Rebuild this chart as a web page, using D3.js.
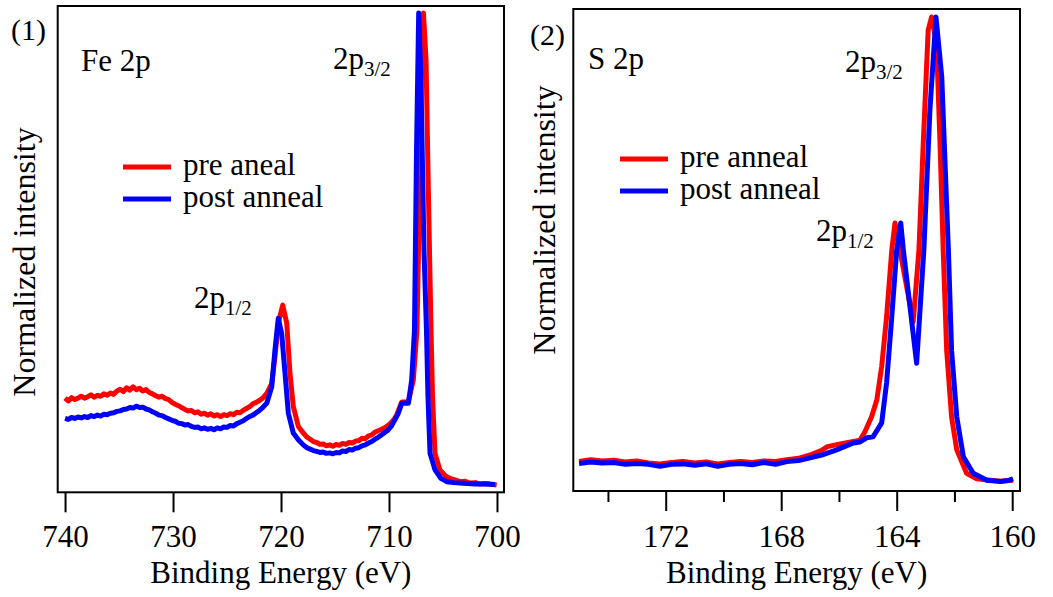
<!DOCTYPE html>
<html>
<head>
<meta charset="utf-8">
<script src="https://cdn.jsdelivr.net/npm/d3@7"></script>
<style>
  body { margin: 0; background: #fff; }
  svg text { font-family: "Liberation Serif"; fill: #000; }
</style>
</head>
<body>
<svg id="chart" width="1053" height="597" font-family="Liberation Serif"></svg>
<script>
// Fe 2p spectra: [binding energy (eV), normalized intensity]
var fePre = [[740.0,0.184],[739.7,0.178],[739.4,0.185],[739.1,0.181],[738.8,0.184],[738.5,0.188],[738.2,0.184],[737.9,0.187],[737.6,0.191],[737.3,0.186],[737.0,0.190],[736.7,0.188],[736.4,0.193],[736.1,0.190],[735.8,0.195],[735.5,0.192],[735.2,0.199],[734.9,0.203],[734.6,0.198],[734.3,0.206],[734.0,0.201],[733.7,0.208],[733.4,0.202],[733.1,0.205],[732.8,0.199],[732.5,0.202],[732.2,0.196],[731.9,0.193],[731.6,0.189],[731.3,0.186],[731.0,0.188],[730.7,0.183],[730.4,0.181],[730.1,0.175],[729.8,0.171],[729.5,0.168],[729.2,0.164],[728.9,0.160],[728.6,0.157],[728.3,0.158],[728.0,0.153],[727.7,0.155],[727.4,0.150],[727.1,0.152],[726.8,0.148],[726.5,0.151],[726.2,0.146],[725.9,0.149],[725.6,0.145],[725.3,0.149],[725.0,0.147],[724.7,0.151],[724.4,0.149],[724.1,0.154],[723.8,0.153],[723.5,0.158],[723.2,0.162],[722.9,0.166],[722.6,0.172],[722.3,0.175],[722.0,0.179],[721.7,0.184],[721.32,0.194],[720.86,0.215],[720.56,0.272],[720.25,0.343],[719.84,0.381],[719.47,0.343],[719.17,0.237],[718.86,0.166],[718.4,0.124],[718.0,0.112],[717.62,0.102],[717.3,0.097],[717.0,0.092],[716.7,0.090],[716.4,0.086],[716.1,0.087],[715.8,0.083],[715.5,0.085],[715.2,0.082],[714.9,0.086],[714.6,0.084],[714.3,0.088],[714.0,0.086],[713.7,0.090],[713.4,0.089],[713.1,0.093],[712.8,0.094],[712.5,0.099],[712.2,0.098],[711.9,0.104],[711.6,0.106],[711.3,0.112],[711.0,0.115],[710.7,0.118],[710.4,0.121],[710.1,0.126],[709.8,0.132],[709.5,0.140],[709.29,0.148],[708.82,0.176],[708.21,0.176],[707.75,0.222],[707.41,0.328],[707.18,0.604],[706.99,0.9],[706.81,1.0],[706.57,0.9],[706.34,0.604],[706.11,0.328],[705.97,0.187],[705.74,0.067],[705.28,0.032],[704.8,0.020],[704.35,0.014],[703.9,0.011],[703.43,0.007],[703.0,0.008],[702.5,0.004],[702.0,0.005],[701.57,0.002],[701.0,0.003],[700.03,0.0]];
var fePost = [[740.0,0.141],[739.7,0.139],[739.4,0.143],[739.1,0.141],[738.8,0.144],[738.5,0.142],[738.2,0.145],[737.9,0.143],[737.6,0.147],[737.3,0.145],[737.0,0.148],[736.7,0.146],[736.4,0.150],[736.1,0.149],[735.8,0.152],[735.5,0.153],[735.2,0.156],[734.9,0.157],[734.6,0.160],[734.3,0.161],[734.0,0.164],[733.7,0.163],[733.4,0.167],[733.1,0.164],[732.8,0.165],[732.5,0.161],[732.2,0.159],[731.9,0.155],[731.6,0.152],[731.3,0.148],[731.0,0.147],[730.7,0.143],[730.4,0.140],[730.1,0.137],[729.8,0.135],[729.5,0.131],[729.2,0.130],[728.9,0.127],[728.6,0.128],[728.3,0.124],[728.0,0.122],[727.7,0.123],[727.4,0.119],[727.1,0.121],[726.8,0.118],[726.5,0.120],[726.2,0.117],[725.9,0.121],[725.6,0.119],[725.3,0.123],[725.0,0.122],[724.7,0.126],[724.4,0.125],[724.1,0.130],[723.8,0.133],[723.5,0.136],[723.2,0.141],[722.9,0.145],[722.6,0.148],[722.3,0.153],[722.0,0.158],[721.7,0.164],[721.32,0.173],[720.86,0.208],[720.56,0.286],[720.25,0.353],[719.94,0.321],[719.63,0.237],[719.32,0.152],[718.86,0.110],[718.4,0.096],[717.94,0.085],[717.6,0.079],[717.3,0.076],[717.0,0.073],[716.7,0.071],[716.4,0.069],[716.1,0.070],[715.8,0.067],[715.5,0.068],[715.2,0.066],[714.9,0.069],[714.6,0.068],[714.3,0.072],[714.0,0.071],[713.7,0.075],[713.4,0.074],[713.1,0.078],[712.8,0.079],[712.5,0.083],[712.2,0.085],[711.9,0.089],[711.6,0.092],[711.3,0.097],[711.0,0.101],[710.7,0.106],[710.4,0.111],[710.1,0.116],[709.8,0.124],[709.5,0.136],[709.14,0.152],[708.82,0.173],[708.21,0.173],[707.9,0.222],[707.64,0.328],[707.45,0.71],[707.25,1.0],[707.04,0.858],[706.76,0.498],[706.53,0.328],[706.39,0.187],[706.2,0.067],[705.74,0.032],[705.2,0.014],[704.66,0.007],[704.0,0.005],[703.43,0.004],[702.7,0.003],[702.04,0.002],[701.2,0.002],[700.19,0.001]];

// S 2p spectra
var sPre = [[175.0,0.046],[174.6,0.050],[174.2,0.047],[173.8,0.049],[173.4,0.045],[173.0,0.047],[172.6,0.043],[172.2,0.041],[171.8,0.044],[171.4,0.046],[171.0,0.043],[170.6,0.045],[170.2,0.041],[169.8,0.044],[169.4,0.046],[169.0,0.044],[168.6,0.047],[168.2,0.046],[167.8,0.050],[167.4,0.053],[167.0,0.060],[166.6,0.070],[166.4,0.078],[166.0,0.083],[165.5,0.089],[165.27,0.092],[165.1,0.110],[164.87,0.142],[164.69,0.178],[164.52,0.25],[164.35,0.357],[164.17,0.5],[164.06,0.558],[163.89,0.5],[163.43,0.346],[163.23,0.5],[163.08,0.73],[162.91,0.972],[162.79,1.0],[162.62,0.944],[162.5,0.73],[162.39,0.5],[162.27,0.285],[162.1,0.142],[161.92,0.071],[161.58,0.021],[161.23,0.009],[160.77,0.006],[160.4,0.004],[159.97,0.006]];
var sPost = [[175.0,0.042],[174.6,0.045],[174.2,0.043],[173.8,0.044],[173.4,0.040],[173.0,0.042],[172.6,0.040],[172.2,0.036],[171.8,0.040],[171.4,0.041],[171.0,0.038],[170.6,0.041],[170.2,0.036],[169.8,0.040],[169.4,0.042],[169.0,0.039],[168.6,0.044],[168.2,0.040],[167.8,0.046],[167.4,0.048],[167.0,0.054],[166.6,0.060],[166.08,0.071],[165.5,0.086],[165.27,0.088],[165.04,0.097],[164.82,0.099],[164.52,0.129],[164.35,0.215],[164.17,0.357],[164.0,0.5],[163.86,0.558],[163.77,0.5],[163.31,0.257],[163.06,0.5],[162.85,0.8],[162.64,1.0],[162.44,0.872],[162.33,0.693],[162.21,0.5],[162.1,0.285],[161.92,0.142],[161.69,0.056],[161.35,0.021],[160.88,0.006],[160.4,0.003],[160.1,0.006],[159.97,0.009]];

var feTicks = [740, 730, 720, 710, 700];
var sTicks = [172, 168, 164, 160];
var sMinorTicks = [174, 170, 166, 162];
var feLegend = ["pre aneal", "post anneal"];
var sLegend = ["pre anneal", "post anneal"];
var colors = ["#ff0000", "#0000ff"];

var svg = d3.select("#chart");
var FS = 31;
var SERIF = "Liberation Serif";

var drawPanel = function(p) {
  var x = d3.scaleLinear().domain(p.xDomain).range([p.left, p.right]);
  var y = d3.scaleLinear().domain(p.yDomain).range([p.bottom, p.top]);
  var g = svg.append("g").attr("font-family", SERIF);

  var line = d3.line()
      .x(function(d) { return x(d[0]); })
      .y(function(d) { return y(d[1]); });

  p.series.forEach(function(s, i) {
    g.append("path")
        .datum(s)
        .attr("fill", "none")
        .attr("stroke", colors[i])
        .attr("stroke-width", 5)
        .attr("stroke-linejoin", "round")
        .attr("d", line);
  });

  // frame
  g.append("rect")
      .attr("x", p.left).attr("y", p.top)
      .attr("width", p.right - p.left).attr("height", p.bottom - p.top)
      .attr("fill", "none").attr("stroke", "#000").attr("stroke-width", 2);

  var ax = g.append("g")
      .attr("transform", "translate(0," + p.bottom + ")")
      .call(d3.axisBottom(x).tickValues(p.ticks).tickSize(20).tickPadding(p.pad)
        .tickFormat(d3.format("d")));
  ax.attr("font-family", SERIF).attr("font-size", FS);
  ax.select(".domain").remove();
  ax.selectAll("line").attr("stroke-width", 2);
  ax.selectAll("text").attr("font-family", SERIF);

  if (p.minor) {
    var mx = g.append("g")
        .attr("transform", "translate(0," + p.bottom + ")")
        .call(d3.axisBottom(x).tickValues(p.minor).tickSize(11).tickFormat(""));
    mx.select(".domain").remove();
    mx.selectAll("line").attr("stroke-width", 2);
  }

  g.append("text")
      .attr("x", (p.left + p.right) / 2).attr("y", 583)
      .attr("text-anchor", "middle").attr("font-size", FS)
      .text("Binding Energy (eV)");

  g.append("text")
      .attr("transform", "translate(" + p.ylabX + "," + p.ylabY + ") rotate(-90)")
      .attr("text-anchor", "middle").attr("font-size", 32)
      .text("Normalized intensity");

  g.append("text").attr("x", p.numX).attr("y", p.numY)
      .attr("font-size", 30).text(p.num);
  g.append("text").attr("x", p.titleX).attr("y", p.titleY)
      .attr("font-size", FS).text(p.title);

  p.peaks.forEach(function(pk) {
    var t = g.append("text").attr("x", pk.x).attr("y", pk.y).attr("font-size", FS);
    t.append("tspan").text("2p");
    t.append("tspan").attr("dy", 7).attr("font-size", 21).text(pk.sub);
  });

  // legend
  p.legend.forEach(function(name, i) {
    var ly = p.legY + i * 32;
    g.append("line")
        .attr("x1", p.legX).attr("x2", p.legX + 48)
        .attr("y1", ly).attr("y2", ly)
        .attr("stroke", colors[i]).attr("stroke-width", 5);
    g.append("text")
        .attr("x", p.legX + 60).attr("y", ly + 8)
        .attr("font-size", FS).text(name);
  });
};

drawPanel({
  left: 57.7, right: 504, top: 6, bottom: 492.3,
  xDomain: [740.68, 699.35], yDomain: [-0.0155, 1.0148],
  series: [fePre, fePost], ticks: feTicks, pad: 13,
  ylabX: 35, ylabY: 262,
  num: "(1)", numX: 11, numY: 40,
  title: "Fe 2p", titleX: 81, titleY: 71,
  peaks: [{x: 333, y: 69, sub: "3/2"}, {x: 194, y: 308, sub: "1/2"}],
  legend: feLegend, legX: 123, legY: 167
});

drawPanel({
  left: 573.3, right: 1020, top: 9, bottom: 491,
  xDomain: [175.2, 159.73], yDomain: [-0.0172, 1.0172],
  series: [sPre, sPost], ticks: sTicks, minor: sMinorTicks, pad: 14,
  ylabX: 555, ylabY: 220,
  num: "(2)", numX: 530, numY: 45,
  title: "S 2p", titleX: 588, titleY: 69,
  peaks: [{x: 845, y: 72, sub: "3/2"}, {x: 816, y: 241, sub: "1/2"}],
  legend: sLegend, legX: 620, legY: 159
});
</script>
</body>
</html>
